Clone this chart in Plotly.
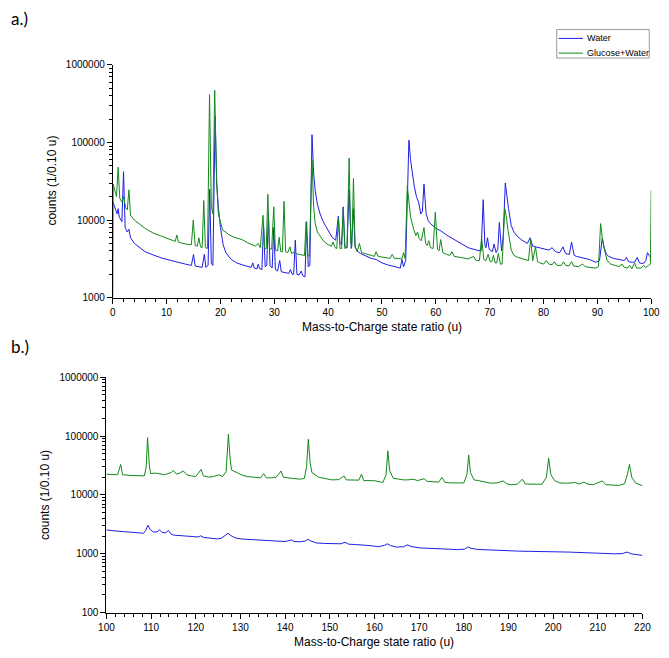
import plotly.graph_objects as go

# ---------------- data ----------------
# Panel a: m/z 0-100, (m/z, counts) pairs
water_a = [(0.05,17000),(0.4,14500),(0.8,12000),(1.0,14000),(1.2,11000),(1.7,9500),(2.0,42000),(2.3,8000),(2.7,7000),(3.0,7600),(3.3,5900),(4.0,5000),(5.0,4400),(6.0,3900),(7.5,3550),(9.0,3250),(10.5,3050),(12.0,2850),(13.5,2700),(14.6,2600),(15.0,3600),(15.3,2550),(16.0,2500),(16.6,2450),(17.0,3600),(17.3,2450),(17.7,2600),(18.0,25000),(18.3,2800),(18.6,2600),(19.0,220000),(19.3,30000),(19.6,15000),(20.0,8000),(20.5,4800),(21.0,3800),(22.0,3100),(23.0,2800),(24.0,2650),(25.0,2500),(25.7,2450),(26.0,2800),(26.3,2400),(26.8,2350),(27.0,2700),(27.3,2350),(27.7,2300),(28.0,9000),(28.3,2500),(28.6,2600),(28.9,12000),(29.2,2600),(29.6,2400),(29.9,8000),(30.2,2300),(30.6,2200),(31.0,3000),(31.3,2150),(32.0,2100),(32.7,2050),(33.0,2300),(33.3,2000),(33.6,2000),(33.9,5500),(34.2,2000),(34.6,1950),(35.0,2200),(35.3,1900),(35.7,1850),(36.0,9500),(36.3,2500),(36.6,2600),(37.0,126000),(37.3,40000),(37.6,24000),(38.0,16000),(38.5,12000),(39.0,9800),(39.6,8200),(40.2,6800),(40.8,5900),(41.4,5500),(41.9,11200),(42.2,5000),(42.5,4800),(42.8,14800),(43.1,4500),(43.5,4400),(43.9,25000),(44.3,4300),(44.7,14000),(45.0,4500),(45.4,4000),(46.0,3700),(47.0,3400),(48.0,3200),(48.9,3100),(50.0,2800),(51.0,2650),(52.0,2550),(53.0,2420),(53.4,2400),(53.7,3100),(54.0,2500),(54.4,3000),(54.7,30000),(55.0,107000),(55.3,60000),(55.6,40000),(56.0,27000),(56.4,20000),(56.8,17000),(57.2,12000),(57.5,13000),(57.8,29000),(58.2,12000),(58.6,9800),(59.0,9000),(60.0,7800),(61.0,7200),(62.0,6400),(63.0,5800),(64.5,5000),(66.0,4400),(67.5,4100),(68.4,4000),(68.8,18300),(69.1,4800),(69.3,4400),(69.6,5900),(69.9,4200),(70.5,3900),(70.8,4900),(71.2,3800),(71.5,4200),(71.8,9300),(72.2,4000),(72.5,6000),(72.9,30000),(73.2,20000),(73.5,14000),(74.0,8500),(74.5,7000),(75.2,6100),(76.0,5500),(77.0,5000),(77.5,5900),(78.0,4600),(79.0,4400),(80.0,4200),(81.0,4100),(81.6,4400),(82.2,3900),(83.0,3800),(83.6,4500),(84.1,3700),(84.8,3600),(85.2,5200),(85.7,3500),(86.1,3400),(87.0,3300),(87.6,3250),(88.5,3100),(89.7,2850),(90.4,3000),(90.9,5800),(91.3,4300),(91.7,3600),(92.1,3400),(93.0,3200),(94.0,3100),(94.5,3000),(95.0,3000),(95.4,3300),(95.8,2900),(96.5,2850),(97.0,2900),(97.4,3300),(97.8,2800),(98.3,2750),(98.7,2800),(99.0,3000),(99.3,3800),(99.6,3500),(99.9,3300)]

glucose_a = [(0.0,1000),(0.08,29000),(0.4,24000),(0.7,20000),(1.0,48000),(1.3,19000),(1.7,17000),(2.0,20000),(2.4,14500),(2.7,13500),(3.0,24500),(3.3,11500),(4.0,10000),(5.0,8800),(6.0,7800),(7.5,6800),(9.0,6200),(10.5,5700),(11.6,5300),(11.9,6400),(12.2,5200),(13.5,4900),(14.6,4800),(14.95,10000),(15.3,4700),(15.7,4600),(16.0,5900),(16.3,4500),(16.6,4400),(16.9,17800),(17.2,4400),(17.6,4300),(17.97,415000),(18.3,15000),(18.6,12000),(18.93,470000),(19.3,30000),(19.6,12000),(20.0,9000),(20.4,7400),(21.0,7000),(21.5,6500),(22.5,6000),(24.0,5600),(25.0,5100),(25.8,4800),(26.5,4600),(27.0,5000),(27.4,4400),(27.9,11500),(28.2,4300),(28.5,4300),(28.8,21500),(29.1,4300),(29.5,4200),(29.9,14800),(30.2,4100),(30.6,4000),(30.9,6000),(31.2,3900),(31.5,3900),(31.8,17400),(32.1,3900),(32.5,3800),(32.9,4500),(33.2,3700),(33.8,3900),(34.2,3650),(35.0,3550),(35.6,3500),(35.9,9500),(36.2,3500),(36.5,3400),(37.0,60000),(37.3,15000),(37.6,9000),(38.0,7000),(38.6,6000),(39.2,5300),(40.0,4800),(40.6,4600),(40.9,5200),(41.3,4400),(41.6,4300),(41.9,10500),(42.2,4300),(42.5,4300),(42.8,14000),(43.1,4300),(43.5,4400),(43.9,63000),(44.2,5000),(44.4,4600),(44.7,34500),(45.0,4500),(45.4,3900),(45.8,5000),(46.2,3800),(47.0,3700),(48.0,3500),(48.6,3400),(48.9,3900),(49.3,3400),(50.5,3300),(51.5,3200),(51.9,3600),(52.3,3200),(53.0,3200),(53.7,3150),(54.0,3800),(54.3,3200),(54.7,27500),(55.0,16000),(55.3,11000),(55.9,7500),(56.3,6300),(56.6,7000),(56.9,5800),(57.3,5400),(57.8,8000),(58.1,5000),(58.4,4700),(58.7,5400),(59.0,4400),(59.5,4300),(59.9,12600),(60.3,4200),(60.6,4000),(60.9,5600),(61.3,3800),(62.0,3600),(62.6,3500),(63.0,3900),(63.4,3400),(64.5,3300),(66.0,3150),(67.0,3400),(67.5,3000),(68.1,3000),(68.5,6000),(68.9,3100),(69.3,3000),(69.7,3600),(70.1,2900),(70.4,2900),(70.7,3500),(71.0,2800),(71.3,2800),(71.6,3700),(72.0,2700),(72.3,2700),(72.8,14000),(73.1,11000),(73.4,7400),(74.0,4100),(74.5,3500),(75.2,3300),(76.4,3100),(77.2,3000),(77.6,5600),(78.0,3000),(78.5,4500),(78.9,2900),(79.3,2800),(80.0,2700),(80.5,3000),(81.0,2700),(81.6,2650),(82.0,2900),(82.5,2600),(83.3,2600),(83.7,2900),(84.1,2600),(84.7,2550),(85.2,2900),(85.6,2550),(86.5,2500),(87.2,2700),(87.8,2500),(88.6,2450),(89.7,2400),(90.2,2500),(90.6,9000),(90.9,6000),(91.2,4500),(91.8,3000),(92.5,2700),(93.3,2600),(94.0,2500),(94.6,2700),(95.0,2450),(95.6,2400),(96.0,2600),(96.4,2350),(96.9,2800),(97.3,2400),(98.1,2400),(98.6,2600),(99.0,2450),(99.5,2600),(99.85,2700),(100.0,24000)]

# Panel b: m/z 100-220
glucose_b = [(100.0,22500),(101.5,22200),(102.5,22000),(103.2,33000),(103.6,22000),(105.0,21500),(107.0,21200),(108.5,21000),(108.9,30000),(109.2,94000),(109.6,32000),(109.9,23000),(110.9,23500),(112.0,22500),(113.0,22000),(114.5,24000),(115.0,26000),(115.7,22500),(116.4,23500),(117.2,25500),(118.0,22000),(119.0,21000),(120.0,20500),(121.2,27000),(121.7,21000),(122.9,20000),(124.0,20500),(125.2,22000),(126.0,20500),(126.8,25000),(127.3,108000),(127.7,40000),(128.0,26500),(129.4,23500),(130.5,21500),(131.5,20500),(133.1,19800),(134.5,19500),(135.2,23000),(135.8,19500),(137.0,19500),(138.0,20000),(139.1,25500),(139.6,20000),(140.5,19500),(142.0,19000),(143.3,18500),(144.3,19000),(144.8,30000),(145.2,88000),(145.6,35000),(146.0,24000),(146.6,22000),(147.5,20000),(148.9,19000),(150.5,18000),(152.0,18200),(153.2,21000),(153.7,18000),(155.4,17600),(156.5,17800),(157.1,22500),(157.6,17500),(159.0,17500),(160.0,17400),(161.9,16300),(162.6,22000),(163.0,56000),(163.4,26000),(164.2,19200),(165.2,18500),(166.5,18000),(167.5,18000),(168.8,18500),(169.6,17500),(171.1,18800),(171.8,17000),(173.0,16700),(174.4,16500),(175.1,19800),(175.8,16300),(177.0,16000),(178.6,15800),(180.0,16000),(180.7,22000),(181.1,47700),(181.5,24000),(182.3,18000),(183.3,17500),(184.5,16500),(186.0,15800),(187.5,16000),(188.8,17300),(189.6,15500),(190.6,14900),(192.0,15200),(193.1,18500),(193.8,15300),(195.0,15200),(196.2,15000),(197.5,15200),(198.5,20000),(199.0,42000),(199.5,22000),(200.4,17300),(201.5,16000),(203.0,15800),(205.0,16200),(205.8,15300),(206.9,16500),(207.8,15200),(209.0,14900),(211.0,17300),(211.8,14900),(213.0,14700),(214.7,14500),(216.0,15500),(216.6,22000),(217.1,33000),(217.6,20000),(218.5,15800),(219.3,15000),(220.0,14300)]

water_b = [(100.0,2550),(101.0,2480),(102.5,2420),(104.0,2380),(105.5,2330),(107.0,2260),(108.3,2230),(108.8,2500),(109.3,3050),(109.8,2600),(110.5,2350),(111.3,2350),(111.9,2550),(112.5,2300),(113.3,2280),(113.9,2500),(114.5,2150),(115.2,2070),(116.5,2050),(118.3,1970),(119.5,1960),(120.5,1930),(121.1,2020),(121.8,1900),(123.0,1850),(124.8,1790),(125.8,1850),(126.6,2050),(127.2,2230),(127.8,2050),(129.0,1850),(130.5,1780),(132.2,1740),(134.0,1700),(135.9,1670),(138.0,1650),(140.0,1620),(141.4,1720),(142.0,1620),(143.3,1600),(144.5,1650),(145.1,1760),(145.8,1650),(147.0,1530),(148.8,1500),(150.7,1470),(152.5,1480),(153.4,1570),(154.2,1460),(155.5,1440),(157.2,1430),(159.0,1380),(160.9,1320),(162.3,1400),(162.9,1480),(163.6,1380),(165.0,1300),(166.5,1320),(167.4,1420),(168.2,1330),(170.2,1260),(172.0,1240),(174.9,1210),(176.5,1200),(178.6,1180),(180.2,1200),(180.9,1310),(181.6,1240),(183.0,1190),(185.0,1170),(187.8,1140),(190.0,1120),(192.5,1110),(195.0,1100),(197.5,1100),(199.0,1110),(201.0,1080),(203.6,1070),(206.0,1050),(208.3,1030),(210.5,1020),(212.0,1010),(213.8,1000),(215.5,1010),(216.6,1070),(217.5,1000),(219.0,960),(220.0,940)]

series_names = ["Water", "Glucose+Water"]
y_ticks_a = [1000, 10000, 100000, 1000000]
y_ticks_b = [100, 1000, 10000, 100000, 1000000]

BLUE = "#1e1ee6"
GREEN = "#13891a"
W, H = 669, 658
FONT = "Liberation Sans, Arial, sans-serif"


def xs(pairs):
    return [p[0] for p in pairs]


def ys(pairs):
    return [p[1] for p in pairs]


fig = go.Figure()
fig.add_trace(go.Scatter(x=xs(water_a), y=ys(water_a), mode="lines", name=series_names[0],
                         line=dict(color=BLUE, width=1), xaxis="x", yaxis="y"))
fig.add_trace(go.Scatter(x=xs(glucose_a), y=ys(glucose_a), mode="lines", name=series_names[1],
                         line=dict(color=GREEN, width=1), xaxis="x", yaxis="y"))
fig.add_trace(go.Scatter(x=xs(glucose_b), y=ys(glucose_b), mode="lines", name=series_names[1],
                         line=dict(color=GREEN, width=1), xaxis="x2", yaxis="y2"))
fig.add_trace(go.Scatter(x=xs(water_b), y=ys(water_b), mode="lines", name=series_names[0],
                         line=dict(color=BLUE, width=1), xaxis="x2", yaxis="y2"))


def px_x(p):
    return p / W


def px_y(p):
    return 1 - p / H


def minor_log(lo, hi):
    vals = []
    for d in range(lo, hi):
        for m in range(2, 10):
            vals.append(m * 10 ** d)
    return vals


axis_common = dict(showline=True, linecolor="black", linewidth=1, ticks="outside", ticklen=5,
                   tickwidth=1, tickcolor="black", showgrid=False, zeroline=False,
                   tickfont=dict(family=FONT, size=10, color="black"), mirror=False)

fig.update_layout(
    width=W, height=H, margin=dict(l=0, r=0, t=0, b=0),
    paper_bgcolor="white", plot_bgcolor="white",
    showlegend=False,
    xaxis=dict(domain=[px_x(107.5), px_x(660)], anchor="y", range=[0, 100], dtick=10, tick0=0,
               minor=dict(ticks="outside", ticklen=3, dtick=2, tickcolor="black", showgrid=False),
               **axis_common),
    yaxis=dict(domain=[px_y(297), px_y(60)], anchor="x", type="log", range=[3, 6],
               tickvals=y_ticks_a, ticktext=[str(v) for v in y_ticks_a],
               minor=dict(ticks="outside", ticklen=3, tickvals=minor_log(3, 6), tickcolor="black", showgrid=False),
               **axis_common),
    xaxis2=dict(domain=[px_x(101), px_x(651)], anchor="y2", range=[100, 220], dtick=10, tick0=100,
                minor=dict(ticks="outside", ticklen=3, dtick=2, tickcolor="black", showgrid=False),
                **axis_common),
    yaxis2=dict(domain=[px_y(618), px_y(378)], anchor="x2", type="log", range=[2, 6],
                tickvals=y_ticks_b, ticktext=[str(v) for v in y_ticks_b],
                minor=dict(ticks="outside", ticklen=3, tickvals=minor_log(2, 6), tickcolor="black", showgrid=False),
                **axis_common),
)

# compact legend box (as in the original figure), drawn in paper coordinates
legend_box = dict(type="rect", xref="paper", yref="paper",
                  x0=px_x(563), x1=px_x(658), y0=px_y(53), y1=px_y(24),
                  line=dict(color="#9a9a9a", width=1), fillcolor="white", layer="above")
legend_rows = [(series_names[0], BLUE, 33), (series_names[1], GREEN, 48)]
shapes = [legend_box]
legend_ann = []
for name, col, yy in legend_rows:
    shapes.append(dict(type="line", xref="paper", yref="paper", x0=px_x(565), x1=px_x(590),
                       y0=px_y(yy), y1=px_y(yy), line=dict(color=col, width=1), layer="above"))
    legend_ann.append(dict(text=name, x=px_x(592), y=px_y(yy), xanchor="left", yanchor="middle",
                           font=dict(family=FONT, size=9, color="black")))
fig.update_layout(shapes=shapes)

title_font = dict(family=FONT, size=12, color="black")
label_font = dict(family="Lato, Open Sans, sans-serif", size=17, color="black")
annotations = [
    dict(text="a.)", x=px_x(1), y=px_y(13), xanchor="left", yanchor="middle", font=label_font),
    dict(text="b.)", x=px_x(1), y=px_y(347), xanchor="left", yanchor="middle", font=label_font),
    dict(text="Mass-to-Charge state ratio (u)", x=px_x(384), y=px_y(327), xanchor="center",
         yanchor="middle", font=title_font),
    dict(text="Mass-to-Charge state ratio (u)", x=px_x(376), y=px_y(648), xanchor="center",
         yanchor="middle", font=title_font),
    dict(text="counts (1/0.10 u)", x=px_x(45), y=px_y(178), xanchor="center", yanchor="middle",
         textangle=-90, font=title_font),
    dict(text="counts (1/0.10 u)", x=px_x(38), y=px_y(498), xanchor="center", yanchor="middle",
         textangle=-90, font=title_font),
] + legend_ann
for a in annotations:
    a.update(xref="paper", yref="paper", showarrow=False)
fig.update_layout(annotations=annotations)

fig.write_html("out.html", config={"displayModeBar": False},
               post_script="document.body.style.margin='0px';")
